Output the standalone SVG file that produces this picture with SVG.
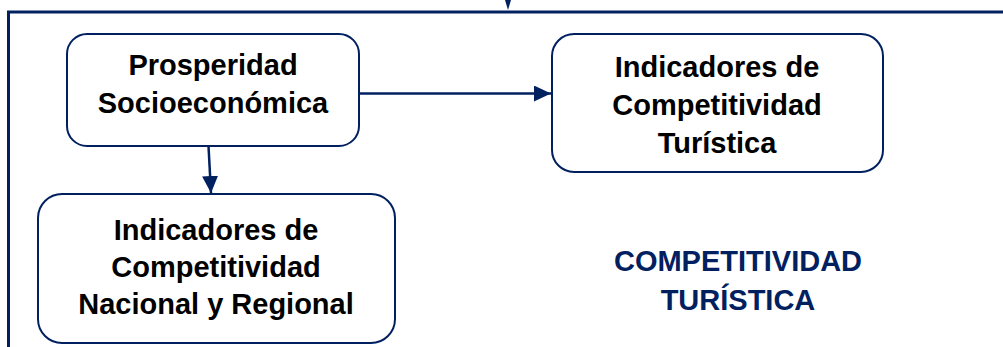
<svg xmlns="http://www.w3.org/2000/svg" width="1003" height="347" viewBox="0 0 1003 347">
  <style>
    .box { fill: #ffffff; stroke: #002060; stroke-width: 2; }
    .label { font-family: "Liberation Sans", Arial, sans-serif; font-weight: bold; font-size: 29px; fill: #000000; text-anchor: middle; }
    .title { font-family: "Liberation Sans", Arial, sans-serif; font-weight: bold; font-size: 29px; fill: #002060; text-anchor: middle; }
    .frame { fill: none; stroke: #002060; stroke-width: 3; }
    .conn { fill: none; stroke: #002060; stroke-width: 2.5; }
  </style>
  <defs>
    <marker id="arrow" markerUnits="userSpaceOnUse" markerWidth="18" markerHeight="16" refX="17" refY="8" orient="auto">
      <path d="M0,0 L17,8 L0,16 Z" fill="#002060"/>
    </marker>
  </defs>

  <rect width="1003" height="347" fill="#ffffff"/>

  <!-- enclosing frame and incoming arrow tip from above -->
  <g id="frame">
    <path class="frame" d="M8.5,347 L8.5,12 L1003,12"/>
    <polygon points="505,0 511,0 508,10" fill="#002060"/>
  </g>

  <!-- connectors -->
  <g id="connectors">
    <line class="conn" x1="208.5" y1="146" x2="211" y2="193" marker-end="url(#arrow)"/>
    <line class="conn" x1="359" y1="93.5" x2="551" y2="93.5" marker-end="url(#arrow)"/>
  </g>

  <g id="node-prosperidad">
    <rect class="box" x="67" y="34" width="292" height="112" rx="20"/>
    <text class="label" x="213" y="75">Prosperidad</text>
    <text class="label" x="213" y="113">Socioeconómica</text>
  </g>

  <g id="node-turistica">
    <rect class="box" x="552" y="34" width="331" height="138" rx="22"/>
    <text class="label" x="717" y="77">Indicadores de</text>
    <text class="label" x="717" y="115">Competitividad</text>
    <text class="label" x="717" y="153">Turística</text>
  </g>

  <g id="node-nacional">
    <rect class="box" x="38" y="194" width="357" height="149" rx="24"/>
    <text class="label" x="216" y="240">Indicadores de</text>
    <text class="label" x="216" y="277">Competitividad</text>
    <text class="label" x="216" y="314">Nacional y Regional</text>
  </g>

  <g id="label-competitividad">
    <text class="title" x="738" y="271">COMPETITIVIDAD</text>
    <text class="title" x="738" y="310">TURÍSTICA</text>
  </g>
</svg>
